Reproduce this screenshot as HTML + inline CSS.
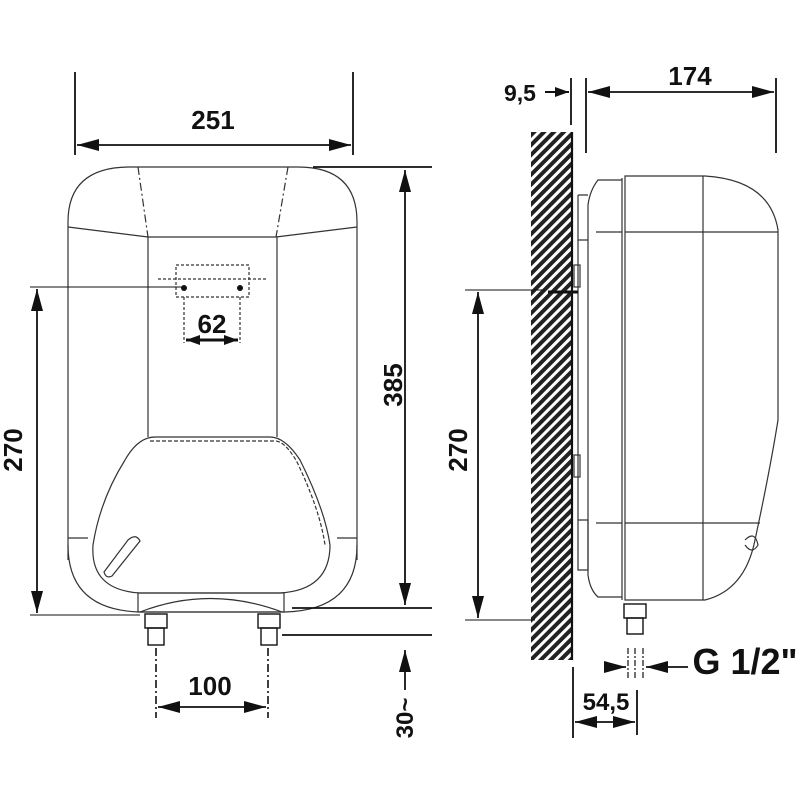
<!DOCTYPE html>
<html><head><style>
html,body{margin:0;padding:0;background:#fff;}
svg{display:block;}
text{font-family:"Liberation Sans",sans-serif;font-weight:bold;fill:#111;}
</style></head><body>
<svg width="800" height="800" viewBox="0 0 800 800" xmlns="http://www.w3.org/2000/svg">
<defs>
<marker id="a" markerWidth="14" markerHeight="10" refX="14" refY="5" orient="auto-start-reverse" markerUnits="userSpaceOnUse"><path d="M0,0 L14,5 L0,10 Z" fill="#111"/></marker>
<marker id="b" markerWidth="22" markerHeight="12" refX="22" refY="6" orient="auto-start-reverse" markerUnits="userSpaceOnUse"><path d="M0,0 L22,6 L0,12 Z" fill="#111"/></marker>
<pattern id="h" width="7" height="7" patternUnits="userSpaceOnUse" patternTransform="rotate(45)"><rect width="7" height="7" fill="#fff"/><rect width="4" height="7" fill="#222"/></pattern>
</defs>
<g stroke="#111" fill="none" stroke-width="1.8">
<!-- 251 -->
<line x1="75" y1="72" x2="75" y2="155"/><line x1="353" y1="72" x2="353" y2="155"/>
<line x1="77" y1="145" x2="351" y2="145" marker-start="url(#b)" marker-end="url(#b)"/>
<!-- front body -->
<g stroke-width="1.2" stroke="#333">
<path d="M68,560 L68,222 Q68,167 130,167 L298,167 Q357,167 357,222 L357,560"/>
<path d="M68,227 L148,237 L276,237 L357,227"/>
<path d="M138,167 L148,237 M288,167 L276,237" stroke-dasharray="8,3,2,3"/>
<line x1="148" y1="237" x2="148" y2="437"/><line x1="277" y1="237" x2="277" y2="437"/>
<path d="M155,437 L270,437 Q285,437 300,460 Q325,510 330,545 Q330,590 280,593 L140,593 Q90,590 93,545 Q100,500 125,460 Q138,437 155,437 Z"/>
<path d="M150,441 L275,441 Q285,441 297,462 Q320,510 325,545" stroke-dasharray="4,2"/>
<path d="M68,545 Q68,610 140,612 L285,612 Q357,610 357,545"/>
<path d="M68,538 L88,538 M337,538 L357,538"/>
<rect x="138" y="593" width="146" height="19"/>
<path d="M140,612 Q210,585 282,612"/>
<path d="M104,572 L128,540 Q136,533 140,541 L112,576 Q106,579 104,572 Z"/>
</g>
<!-- holes -->
<g stroke-width="1.2" stroke-dasharray="3,2" stroke="#333">
<rect x="176" y="265" width="73" height="32"/>
<line x1="158" y1="279" x2="268" y2="279"/>
<line x1="184" y1="297" x2="184" y2="343"/><line x1="240" y1="297" x2="240" y2="343"/>
</g>
<circle cx="184" cy="288" r="3" fill="#111" stroke="none"/>
<circle cx="240" cy="288" r="3" fill="#111" stroke="none"/>
<line x1="186" y1="340" x2="238" y2="340" marker-start="url(#a)" marker-end="url(#a)" stroke-width="3"/>
<!-- pipes front -->
<g stroke-width="1.4">
<rect x="145" y="614" width="22" height="14"/><rect x="148" y="628" width="16" height="17"/>
<rect x="258" y="614" width="22" height="14"/><rect x="261" y="628" width="16" height="17"/>
</g>
<g stroke-width="1.6" stroke-dasharray="8,3,2,3">
<line x1="156" y1="648" x2="156" y2="718"/><line x1="268" y1="648" x2="268" y2="718"/>
</g>
<line x1="158" y1="707" x2="266" y2="707" marker-start="url(#b)" marker-end="url(#b)"/>
<!-- 270 left -->
<line x1="30" y1="287" x2="184" y2="287" stroke-width="1"/>
<line x1="30" y1="615" x2="140" y2="615" stroke-width="1"/>
<line x1="37" y1="289" x2="37" y2="613" marker-start="url(#b)" marker-end="url(#b)"/>
<!-- 385 -->
<line x1="313" y1="167" x2="432" y2="167"/>
<line x1="292" y1="608" x2="432" y2="608"/>
<line x1="282" y1="635" x2="432" y2="635"/>
<line x1="405" y1="170" x2="405" y2="605" marker-start="url(#b)" marker-end="url(#b)"/>
<line x1="405" y1="690" x2="405" y2="650" marker-end="url(#b)"/>
<!-- side view -->
<rect x="531" y="132" width="41" height="528" fill="url(#h)" stroke="none"/>
<line x1="572" y1="132" x2="572" y2="660" stroke-width="2.2"/>
<line x1="571" y1="78" x2="571" y2="125"/>
<line x1="586" y1="78" x2="586" y2="153"/>
<line x1="776" y1="78" x2="776" y2="153"/>
<line x1="545" y1="92" x2="569" y2="92" marker-end="url(#a)" stroke-width="2"/>
<line x1="588" y1="92" x2="774" y2="92" marker-start="url(#b)" marker-end="url(#b)"/>
<g stroke-width="1.2" stroke="#333">
<path d="M625,176 L705,176 Q770,180 778,230 L778,420 Q770,470 755,540 Q745,590 705,600 L625,600 Z"/>
<line x1="703" y1="176" x2="703" y2="600"/>
<line x1="625" y1="232" x2="778" y2="232"/>
<line x1="625" y1="523" x2="760" y2="523"/>
<line x1="622" y1="178" x2="622" y2="600"/>
<path d="M622,180 L598,180 Q590,190 588,205 L588,575 Q590,590 598,597 L622,597"/>
<path d="M578,195 L588,195 M578,195 L578,240 L588,240 M578,520 L588,520 L588,570 L578,570 Z"/>
<line x1="578" y1="240" x2="578" y2="520"/>
<path d="M596,232 L622,232 M596,523 L622,523"/>
<rect x="574" y="265" width="6" height="22"/><rect x="574" y="455" width="6" height="22"/>
<path d="M745,540 Q755,530 758,545 Q752,555 745,545"/>
</g>
<line x1="548" y1="292" x2="578" y2="292" stroke-width="3"/>
<!-- pipe side -->
<g stroke-width="1.4"><rect x="624" y="604" width="22" height="14"/><rect x="627" y="618" width="16" height="16"/></g>
<g stroke-width="1.2" stroke-dasharray="6,2,2,2"><line x1="628" y1="648" x2="628" y2="680"/><line x1="635" y1="648" x2="635" y2="680"/><line x1="643" y1="648" x2="643" y2="680"/></g>
<line x1="605" y1="667" x2="626" y2="667" marker-end="url(#b)"/>
<line x1="688" y1="667" x2="646" y2="667" marker-end="url(#b)"/>
<!-- 270 side -->
<line x1="465" y1="290" x2="545" y2="290" stroke-width="1"/>
<line x1="465" y1="620" x2="535" y2="620" stroke-width="1"/>
<line x1="478" y1="292" x2="478" y2="618" marker-start="url(#b)" marker-end="url(#b)"/>
<!-- 54,5 -->
<line x1="573" y1="667" x2="573" y2="738"/><line x1="637" y1="690" x2="637" y2="735"/>
<line x1="575" y1="722" x2="635" y2="722" marker-start="url(#b)" marker-end="url(#b)"/>
</g>
<text x="213" y="129" font-size="26" text-anchor="middle">251</text>
<text x="212" y="333" font-size="26" text-anchor="middle">62</text>
<text x="210" y="695" font-size="26" text-anchor="middle">100</text>
<text transform="translate(22,450) rotate(-90)" font-size="26" text-anchor="middle">270</text>
<text transform="translate(402,385) rotate(-90)" font-size="26" text-anchor="middle">385</text>
<text transform="translate(413,718) rotate(-90)" font-size="24" text-anchor="middle">30~</text>
<text transform="translate(467,450) rotate(-90)" font-size="26" text-anchor="middle">270</text>
<text x="520" y="101" font-size="23" text-anchor="middle">9,5</text>
<text x="690" y="85" font-size="26" text-anchor="middle">174</text>
<text x="606" y="710" font-size="24" text-anchor="middle">54,5</text>
<text x="745" y="674" font-size="36" text-anchor="middle">G 1/2"</text>
</svg>
</body></html>
